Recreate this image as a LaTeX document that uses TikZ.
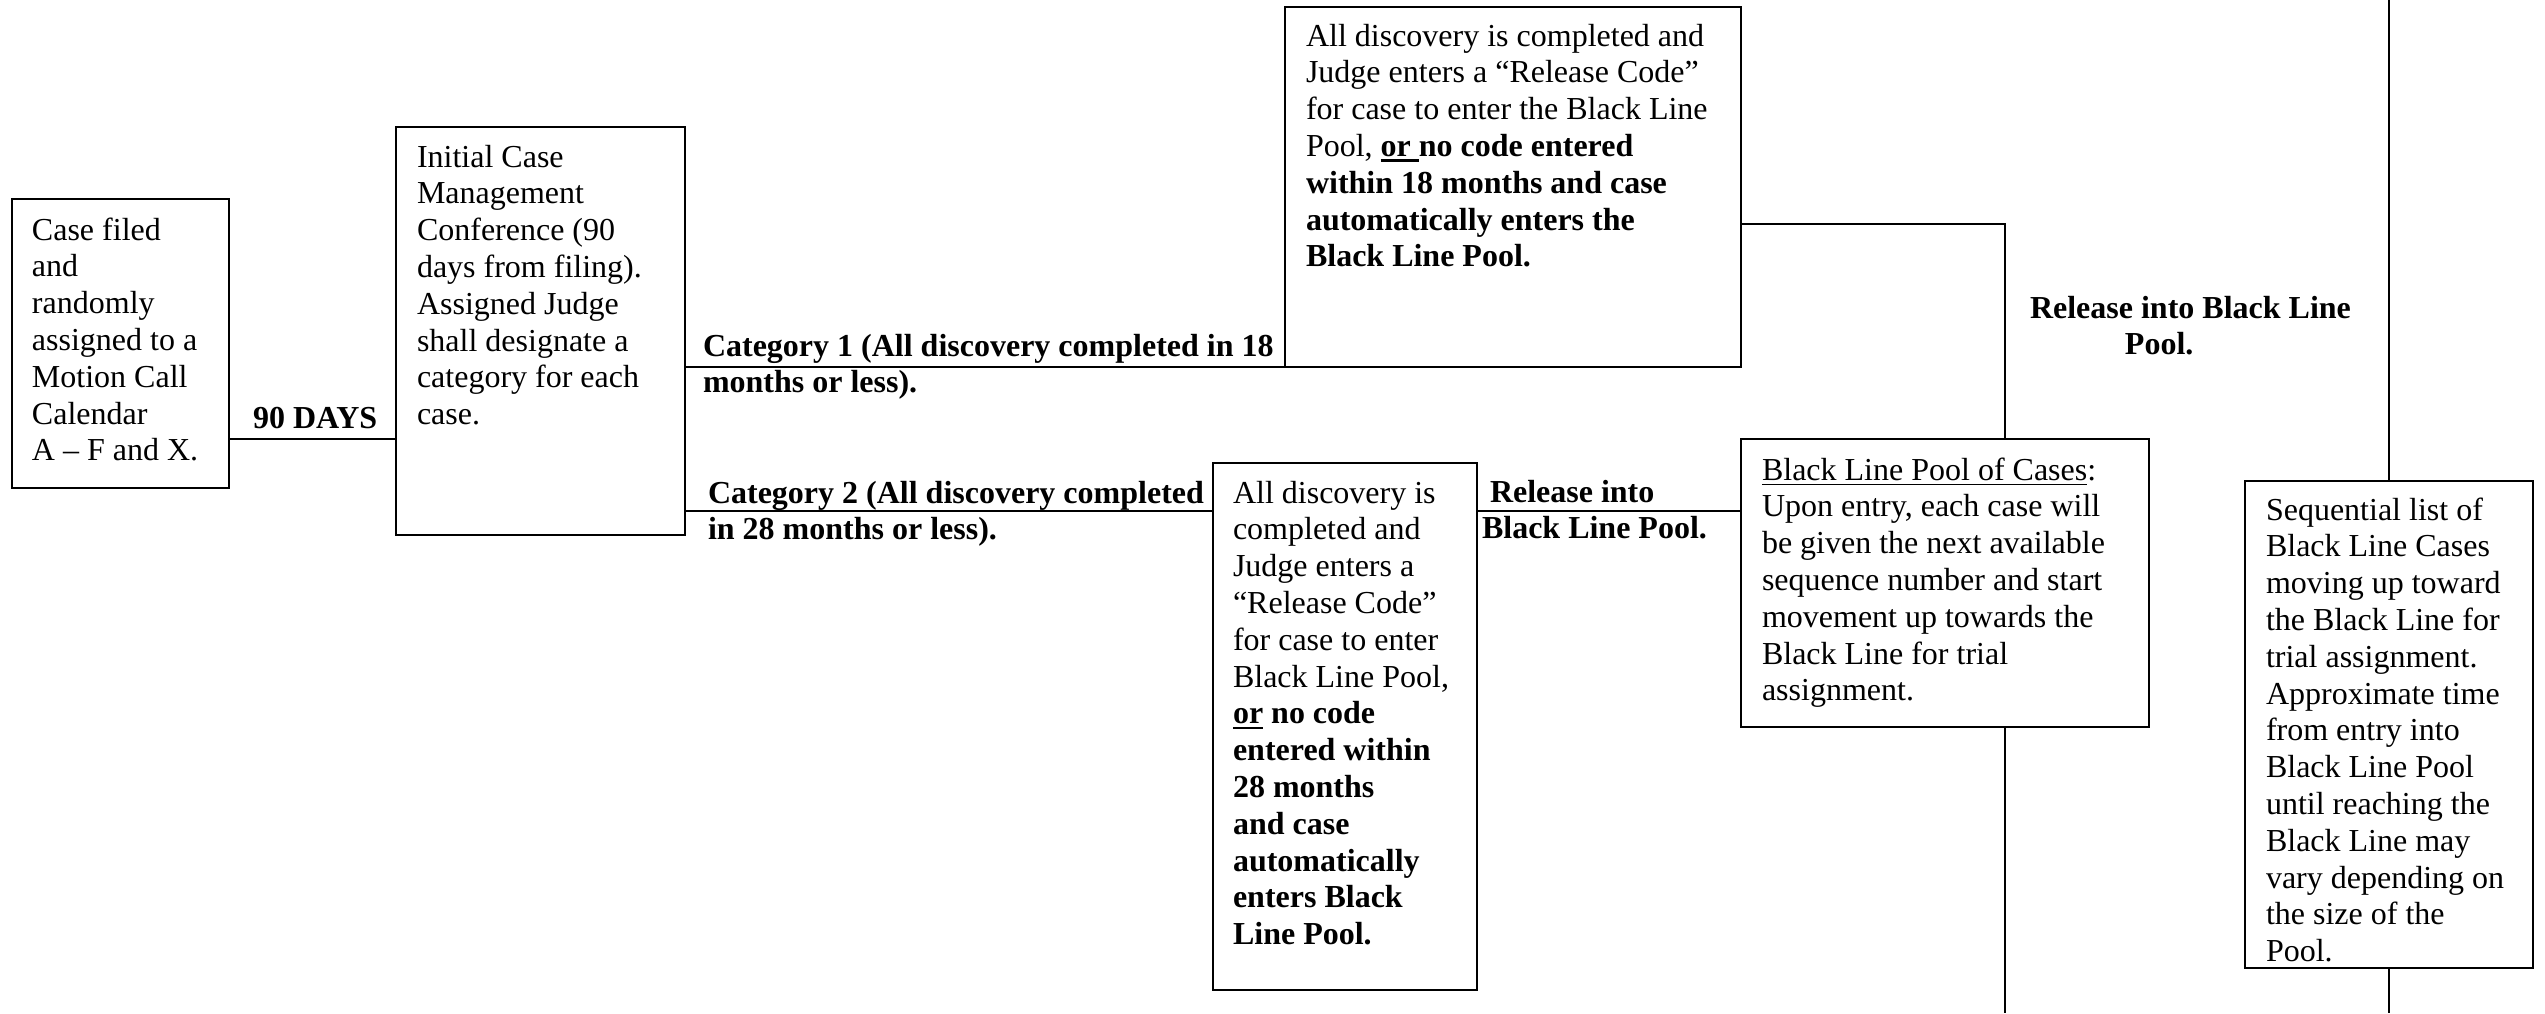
\documentclass[tikz,border=0pt]{standalone}
\usepackage{fontspec}
\setmainfont{Liberation Serif}
\usetikzlibrary{fit}
\newcommand{\tblk}[1]{\parbox[t]{300pt}{\raggedright #1}}
\newcommand{\thickul}[1]{\leavevmode\vtop{\hbox{#1}\kern0.9pt\hrule height 1.1pt}}
\begin{document}
\begin{tikzpicture}[x=0.375pt, y=-0.375pt,
  font=\fontsize{12}{13.8}\selectfont,
  box/.style={draw, line width=0.8pt, inner sep=0pt, outer sep=0pt},
  txt/.style={anchor=base west, inner sep=0pt, outer sep=0pt},
  lbl/.style={txt, font=\fontsize{12}{13.8}\selectfont\bfseries},
  conn/.style={line width=0.8pt}]
\useasboundingbox (0,0) rectangle (2545,1013);

% boxes
\node[box, fit={(12,199) (229,488)}] (A) {};
\node[box, fit={(396,127) (685,535)}] (B) {};
\node[box, fit={(1285,7) (1741,367)}] (C) {};
\node[box, fit={(1213,463) (1477,990)}] (E) {};
\node[box, fit={(1741,439) (2149,727)}] (D) {};
\node[box, fit={(2245,481) (2533,968)}] (F) {};

% box texts
\node[txt] (tA) at (32,240) {\tblk{Case filed\\and\\randomly\\assigned to a\\Motion Call\\Calendar\\A – F and X.}};
\node[txt] (tB) at (417,167) {\tblk{Initial Case\\Management\\Conference (90\\days from filing).\\Assigned Judge\\shall designate a\\category for each\\case.}};
\node[txt] (tC) at (1306,46) {\tblk{All discovery is completed and\\Judge enters a “Release Code”\\for case to enter the Black Line\\Pool, \textbf{\thickul{or }no code entered}\\\textbf{within 18 months and case}\\\textbf{automatically enters the}\\\textbf{Black Line Pool.}}};
\node[txt] (tE) at (1233,503) {\tblk{All discovery is\\completed and\\Judge enters a\\“Release Code”\\for case to enter\\Black Line Pool,\\\textbf{\thickul{or} no code}\\\textbf{entered within}\\\textbf{28 months}\\\textbf{and case}\\\textbf{automatically}\\\textbf{enters Black}\\\textbf{Line Pool.}}};
\node[txt] (tD) at (1762,480) {\tblk{\underline{Black Line Pool of Cases}:\\Upon entry, each case will\\be given the next available\\sequence number and start\\movement up towards the\\Black Line for trial\\assignment.}};
\node[txt] (tF) at (2266,520) {\tblk{Sequential list of\\Black Line Cases\\moving up toward\\the Black Line for\\trial assignment.\\Approximate time\\from entry into\\Black Line Pool\\until reaching the\\Black Line may\\vary depending on\\the size of the\\Pool.}};

% connector labels
\node[lbl] (l90) at (253,428) {90 DAYS};
\node[lbl] (lc1) at (703,356) {\tblk{Category 1 (All discovery completed in 18\\months or less).}};
\node[lbl] (lc2) at (708,503) {\tblk{Category 2 (All discovery completed\\in 28 months or less).}};
\node[lbl] (lr1) at (1482,502) {\tblk{\hspace*{3pt}Release into\\Black Line Pool.}};
\node[lbl] (lr2) at (2030,318) {\tblk{Release into Black Line\\\hspace*{35.6pt}Pool.}};

% helper coordinates
\coordinate (yab) at (0,439);
\coordinate (yc2) at (0,511);
\coordinate (ycd) at (0,224);
\coordinate (xd) at (2005,0);
\coordinate (top) at (0,0);
\coordinate (bot) at (0,1013);

% connectors
\draw[conn] (A.east |- yab) -- (B.west |- yab);
\draw[conn] (B.east |- C.south) -- (C.south west);
\draw[conn] (B.east |- yc2) -- (E.west |- yc2);
\draw[conn] (E.east |- yc2) -- (D.west |- yc2);
\draw[conn] (C.east |- ycd) -| (D.north -| xd);
\draw[conn] (D.south -| xd) -- (bot -| xd);
\draw[conn] (F.north) -- (F.north |- top);
\draw[conn] (F.south) -- (F.south |- bot);
\end{tikzpicture}
\end{document}
